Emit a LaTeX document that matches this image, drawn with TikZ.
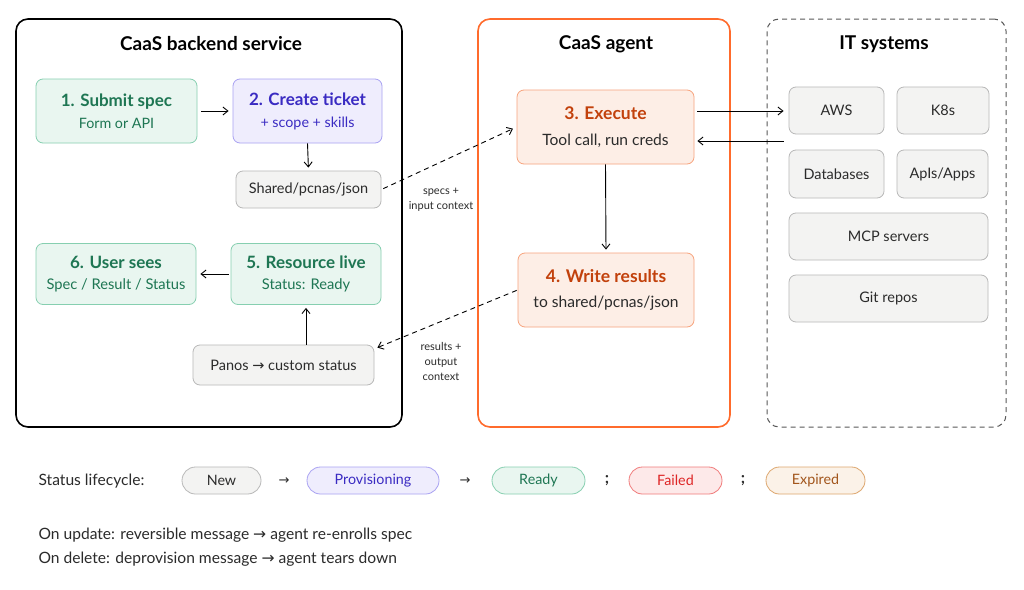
\documentclass[tikz,border=0pt]{standalone}
\usepackage{fontspec}
\setmainfont{Lato}
\newfontfamily\symf{DejaVu Sans}
\usetikzlibrary{arrows.meta}
\definecolor{grnfill}{HTML}{E9F6F0}
\definecolor{grnline}{HTML}{86CFB0}
\definecolor{grntext}{HTML}{1E7653}
\definecolor{purfill}{HTML}{EFEDFD}
\definecolor{purline}{HTML}{A9A2F2}
\definecolor{purtext}{HTML}{3A2BC2}
\definecolor{orgfill}{HTML}{FDEEE6}
\definecolor{orgline}{HTML}{F7A47E}
\definecolor{orgtext}{HTML}{C2410C}
\definecolor{orgframe}{HTML}{FF6B2C}
\definecolor{gryfill}{HTML}{F3F3F2}
\definecolor{gryline}{HTML}{B8B8B8}
\definecolor{txt}{HTML}{2B2B2B}
\definecolor{redfill}{HTML}{FDE9E9}
\definecolor{redline}{HTML}{F07A7A}
\definecolor{redtext}{HTML}{DE2525}
\definecolor{brnfill}{HTML}{FBF2E8}
\definecolor{brnline}{HTML}{DDA66D}
\definecolor{brntext}{HTML}{A2561C}
\newcommand\rarr{{\symf\char"2192}}
\begin{document}
\begin{tikzpicture}[x=1pt,y=-1pt,
  frame/.style={rounded corners=12pt, line width=1.6pt, fill=white},
  title/.style={font=\fontsize{19}{22}\selectfont\bfseries, text=black},
  box/.style={rounded corners=7pt, line width=0.8pt, align=center, inner sep=0pt},
  gbox/.style={box, draw=grnline, fill=grnfill, text=grntext},
  pbox/.style={box, draw=purline, fill=purfill, text=purtext},
  obox/.style={box, draw=orgline, fill=orgfill, text=txt},
  sbox/.style={box, draw=gryline, fill=gryfill, text=txt, font=\fontsize{14.5}{17}\selectfont},
  pill/.style={rounded corners=13.5pt, line width=0.8pt, minimum height=27pt, inner sep=0pt, font=\fontsize{14.3}{17}\selectfont},
  arr/.style={-{Straight Barb[length=5pt,width=8pt]}, line width=0.9pt, black},
  darr/.style={arr, dashed, dash pattern=on 5pt off 4pt},
  lbl/.style={font=\fontsize{11}{15}\selectfont, align=center, text=txt},
  body/.style={anchor=west, font=\fontsize{15.6}{18}\selectfont, text=txt}
]
\useasboundingbox (0,0) rectangle (1024,589);
\fill[white] (0,0) rectangle (1024,589);

% containers
\node[frame, draw=black, minimum width=386pt, minimum height=408pt] (back) at (209,223) {};
\node[frame, draw=orgframe, minimum width=252pt, minimum height=408pt] (agent) at (604,223) {};
\node[frame, draw=black!65, line width=1pt, dashed, dash pattern=on 5pt off 4pt, minimum width=239pt, minimum height=408pt] (it) at (886.5,223) {};
\node[title] (tback) at (211,44) {CaaS backend service};
\node[title] (tagent) at (606,44) {CaaS agent};
\node[title] (tit) at (884,44) {IT systems};

% backend boxes
\node[gbox, minimum width=161pt, minimum height=64pt, font=\fontsize{14.3}{22}\selectfont] (sub) at (116.5,111)
  {{\fontsize{17}{22}\selectfont\bfseries 1. Submit spec}\\Form or API};
\node[pbox, minimum width=149pt, minimum height=64pt, font=\fontsize{14.3}{22}\selectfont] (tick) at (307.5,111)
  {{\fontsize{17}{22}\selectfont\bfseries 2. Create ticket}\\+ scope + skills};
\node[sbox, minimum width=145pt, minimum height=37pt] (shared) at (308.5,189.5) {Shared/pcnas/json};
\node[gbox, minimum width=160pt, minimum height=61pt, font=\fontsize{14.7}{21}\selectfont] (user) at (116,274)
  {{\fontsize{17}{21}\selectfont\bfseries 6. User sees}\\Spec / Result / Status};
\node[gbox, minimum width=150pt, minimum height=61pt, font=\fontsize{14.7}{21}\selectfont] (res) at (306,274)
  {{\fontsize{17}{21}\selectfont\bfseries 5. Resource live}\\Status: Ready};
\node[sbox, minimum width=181pt, minimum height=40pt] (panos) at (283.5,365)
  {Panos \rarr{} custom status};

% agent boxes
\node[obox, minimum width=177pt, minimum height=74pt, font=\fontsize{15.6}{26}\selectfont] (exe) at (605.5,127)
  {{\fontsize{17.5}{26}\selectfont\bfseries\color{orgtext}3. Execute}\\Tool call, run creds};
\node[obox, minimum width=176pt, minimum height=74pt, font=\fontsize{15.6}{25}\selectfont] (wri) at (606,290)
  {{\fontsize{17.5}{25}\selectfont\bfseries\color{orgtext}4. Write results}\\to shared/pcnas/json};

% IT boxes
\node[sbox, minimum width=95pt, minimum height=47pt] (aws) at (836.5,110.5) {AWS};
\node[sbox, minimum width=92pt, minimum height=47pt] (k8s) at (943,110.5) {K8s};
\node[sbox, minimum width=95pt, minimum height=48pt] (db) at (836.5,174) {Databases};
\node[sbox, minimum width=91pt, minimum height=48pt] (api) at (942.5,174) {ApIs/Apps};
\node[sbox, minimum width=199pt, minimum height=47pt] (mcp) at (888.5,236.5) {MCP servers};
\node[sbox, minimum width=199pt, minimum height=47pt] (git) at (888.5,298.5) {Git repos};

% connectors
\draw[arr, shorten <=4pt, shorten >=4pt] (sub.east) -- (tick.west);
\draw[arr, shorten >=3pt] (tick.south) -- (shared.north);
\draw[arr, shorten <=2pt, shorten >=4pt] (res.west) -- (user.east);
\draw[arr, shorten >=3pt] (res.south |- panos.north) -- (res.south);
\draw[arr, shorten >=3pt] (exe.south) -- (wri.north);
\draw[arr, shorten <=3pt, shorten >=5pt] ([yshift=16pt]exe.east) -- ([yshift=16pt]exe.east -| aws.west);
\draw[arr, shorten <=5pt, shorten >=3pt] ([yshift=-14pt]exe.east -| aws.west) -- ([yshift=-14pt]exe.east);
\draw[darr, shorten <=2pt, shorten >=4pt] (shared.east) -- (exe.west);
\draw[darr, shorten <=1pt] (wri.west) -- ([shift={(3pt,-3pt)}]panos.north east);
\node[lbl] (l1) at (441,200) {specs +\\input context};
\node[lbl] (l2) at (441,361) {results +\\output\\context};

% status lifecycle
\node[body] (sl) at (35,481) {Status lifecycle:};
\node[pill, draw=gryline, fill=gryfill, text=txt, minimum width=79pt] (pnew) at (221.5,480.5) {New};
\node[pill, draw=purline, fill=purfill, text=purtext, minimum width=132pt] (pprov) at (373,480.5) {Provisioning};
\node[pill, draw=grnline, fill=grnfill, text=grntext, minimum width=93pt] (pready) at (538.5,480.5) {Ready};
\node[pill, draw=redline, fill=redfill, text=redtext, minimum width=93pt] (pfail) at (675.5,480.5) {Failed};
\node[pill, draw=brnline, fill=brnfill, text=brntext, minimum width=99pt] (pexp) at (815.5,480.5) {Expired};
\node[font=\fontsize{13}{14}\selectfont, text=txt] (a1) at (284,481) {\rarr};
\node[font=\fontsize{13}{14}\selectfont, text=txt] (a2) at (465,481) {\rarr};
\node[font=\fontsize{16}{16}\selectfont\bfseries, text=txt] (s1) at (607,481) {;};
\node[font=\fontsize{16}{16}\selectfont\bfseries, text=txt] (s2) at (743,481) {;};

\node[body] (upd) at (35,535) {On update: reversible message \rarr{} agent re-enrolls spec};
\node[body] (del) at (35,559) {On delete: deprovision message \rarr{} agent tears down};
\end{tikzpicture}
\end{document}
